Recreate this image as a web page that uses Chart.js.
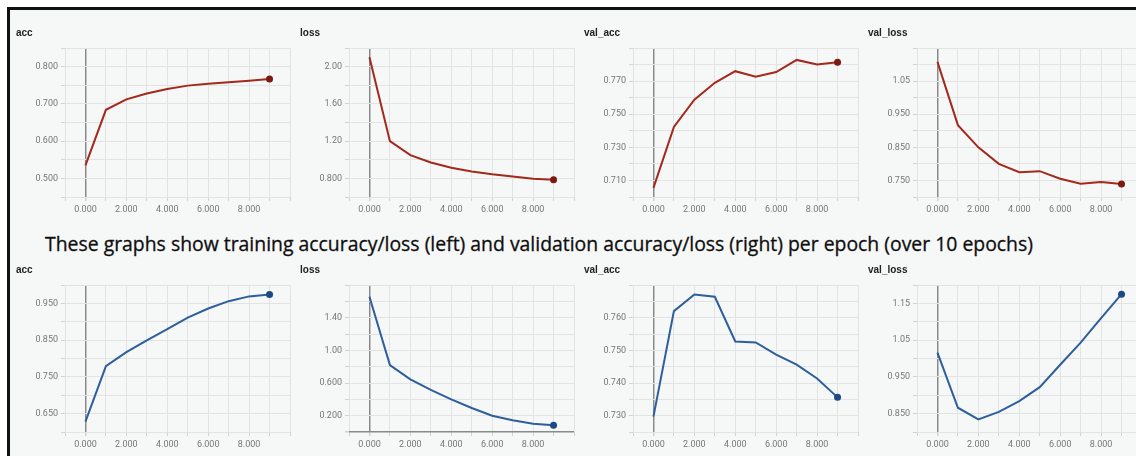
<!DOCTYPE html>
<html>
<head>
<meta charset="utf-8">
<script src="https://cdn.jsdelivr.net/npm/chart.js@4.4.1/dist/chart.umd.min.js"></script>
<style>
  html, body { margin: 0; padding: 0; background: #fff; }
  body { width: 1136px; height: 456px; overflow: hidden; position: relative; }
  #frame {
    position: absolute; left: 7px; top: 7px; width: 1140px; height: 460px;
    border-top: 3px solid #111; border-left: 3px solid #111; background: #f6f7f7;
  }
  canvas { position: absolute; }
  #caption {
    position: absolute; left: 0; width: 1078px; top: 232px; text-align: center;
    font-family: "Open Sans", Lato, sans-serif; font-size: 19.4px; line-height: 24px;
    color: #0e0e0e; white-space: nowrap; -webkit-text-stroke: 0.3px #0e0e0e;
  }
</style>
</head>
<body>
<div id="frame"></div>
<canvas id="c0" width="284" height="200" style="left:10px;top:20px"></canvas>
<canvas id="c1" width="284" height="200" style="left:294px;top:20px"></canvas>
<canvas id="c2" width="284" height="200" style="left:578px;top:20px"></canvas>
<canvas id="c3" width="284" height="200" style="left:862px;top:20px"></canvas>
<canvas id="c4" width="284" height="198" style="left:10px;top:257px"></canvas>
<canvas id="c5" width="284" height="198" style="left:294px;top:257px"></canvas>
<canvas id="c6" width="284" height="198" style="left:578px;top:257px"></canvas>
<canvas id="c7" width="284" height="198" style="left:862px;top:257px"></canvas>
<div id="caption">These graphs show training accuracy/loss (left) and validation accuracy/loss (right) per epoch (over 10 epochs)</div>

<script>
// ========== Data ==========
const epochs = [0, 1, 2, 3, 4, 5, 6, 7, 8, 9];
const xTickLabels = ['0.000', '2.000', '4.000', '6.000', '8.000'];

// first run (top row)
const accRun1 = [0.535, 0.684, 0.712, 0.728, 0.740, 0.749, 0.754, 0.758, 0.762, 0.767];
const lossRun1 = [2.10, 1.20, 1.05, 0.97, 0.915, 0.875, 0.845, 0.82, 0.797, 0.785];
const valAccRun1 = [0.7055, 0.7423, 0.7588, 0.769, 0.776, 0.7726, 0.7755, 0.7828, 0.780, 0.7814];
const valLossRun1 = [1.108, 0.917, 0.850, 0.800, 0.775, 0.778, 0.755, 0.740, 0.745, 0.739];

// second run (bottom row)
const accRun2 = [0.628, 0.779, 0.8175, 0.849, 0.880, 0.911, 0.936, 0.956, 0.969, 0.974];
const lossRun2 = [1.656, 0.82, 0.644, 0.515, 0.40, 0.294, 0.20, 0.144, 0.10, 0.083];
const valAccRun2 = [0.7297, 0.762, 0.7671, 0.7664, 0.7527, 0.7524, 0.7487, 0.7456, 0.7414, 0.7356];
const valLossRun2 = [1.016, 0.866, 0.8345, 0.8546, 0.884, 0.922, 0.983, 1.043, 1.11, 1.175];

// y tick labels
const accTicksRun1 = ['0.500', '0.600', '0.700', '0.800'];
const lossTicksRun1 = ['0.800', '1.20', '1.60', '2.00'];
const valAccTicksRun1 = ['0.710', '0.730', '0.750', '0.770'];
const valLossTicksRun1 = ['0.750', '0.850', '0.950', '1.05'];
const accTicksRun2 = ['0.650', '0.750', '0.850', '0.950'];
const lossTicksRun2 = ['0.200', '0.600', '1.00', '1.40'];
const valAccTicksRun2 = ['0.730', '0.740', '0.750', '0.760'];
const valLossTicksRun2 = ['0.850', '0.950', '1.05', '1.15'];

// ========== Style ==========
const RED = '#a2291c';
const RED_DOT = '#7c1a10';
const BLUE = '#2c5f9b';
const BLUE_DOT = '#1d4a84';
const TICK_FONT = { family: 'Roboto, "Liberation Sans", sans-serif', size: 9 };

const panels = [
  { id: 'c0', title: 'acc', values: accRun1, ticks: accTicksRun1, min: 0.45, max: 0.85, step: 0.05, color: RED, dot: RED_DOT },
  { id: 'c1', title: 'loss', values: lossRun1, ticks: lossTicksRun1, min: 0.6, max: 2.2, step: 0.2, color: RED, dot: RED_DOT },
  { id: 'c2', title: 'val_acc', values: valAccRun1, ticks: valAccTicksRun1, min: 0.70, max: 0.79, step: 0.01, color: RED, dot: RED_DOT },
  { id: 'c3', title: 'val_loss', values: valLossRun1, ticks: valLossTicksRun1, min: 0.70, max: 1.15, step: 0.05, color: RED, dot: RED_DOT },
  { id: 'c4', title: 'acc', values: accRun2, ticks: accTicksRun2, min: 0.60, max: 1.00, step: 0.05, color: BLUE, dot: BLUE_DOT },
  { id: 'c5', title: 'loss', values: lossRun2, ticks: lossTicksRun2, min: 0, max: 1.8, step: 0.2, color: BLUE, dot: BLUE_DOT },
  { id: 'c6', title: 'val_acc', values: valAccRun2, ticks: valAccTicksRun2, min: 0.725, max: 0.770, step: 0.005, color: BLUE, dot: BLUE_DOT },
  { id: 'c7', title: 'val_loss', values: valLossRun2, ticks: valLossTicksRun2, min: 0.80, max: 1.20, step: 0.05, color: BLUE, dot: BLUE_DOT }
];

// label only the ticks that are in the list
function labelFor(list, value, tol) {
  const hit = list.find(l => Math.abs(parseFloat(l) - value) < tol);
  return hit || '';
}

function gridColor(ctx) {
  return ctx.tick && Math.abs(ctx.tick.value) < 1e-9 ? '#8a8a8a' : '#e3e3e3';
}

function gridWidth(ctx) {
  return ctx.tick && Math.abs(ctx.tick.value) < 1e-9 ? 1.5 : 1;
}

function makeChart(p) {
  const last = p.values.length - 1;
  return new Chart(document.getElementById(p.id), {
    type: 'line',
    data: {
      datasets: [{
        data: epochs.map((e, i) => ({ x: e, y: p.values[i] })),
        borderColor: p.color,
        borderWidth: 2,
        tension: 0,
        fill: false,
        pointRadius: ctx => ctx.dataIndex === last ? 3.5 : 0,
        pointBackgroundColor: p.dot,
        pointBorderColor: p.dot,
        pointBorderWidth: 0
      }]
    },
    options: {
      responsive: false,
      animation: false,
      layout: { padding: { left: 6, right: 2, top: 0, bottom: 0 } },
      plugins: {
        legend: { display: false },
        tooltip: { enabled: false },
        title: {
          display: true,
          text: p.title,
          align: 'start',
          color: '#222',
          font: { family: '"Liberation Sans", Arial, sans-serif', size: 10, weight: 'bold', lineHeight: 1.2 },
          padding: { top: 7, bottom: 9 }
        }
      },
      scales: {
        x: {
          type: 'linear',
          min: -1,
          max: 10,
          afterFit: s => { s.height = 23; },
          border: { display: false },
          grid: { color: gridColor, lineWidth: gridWidth, tickColor: '#d2d2d2', tickLength: 4 },
          ticks: {
            stepSize: 1,
            maxTicksLimit: 100,
            autoSkip: false,
            maxRotation: 0,
            padding: 3,
            color: '#777',
            font: TICK_FONT,
            callback: v => labelFor(xTickLabels, v, 1e-6)
          }
        },
        y: {
          type: 'linear',
          min: p.min,
          max: p.max,
          afterFit: s => { s.width = 49; },
          border: { display: false },
          grid: { color: gridColor, lineWidth: gridWidth, tickColor: '#d2d2d2', tickLength: 4 },
          ticks: {
            stepSize: p.step,
            maxTicksLimit: 100,
            autoSkip: false,
            padding: 3,
            color: '#777',
            font: TICK_FONT,
            callback: v => labelFor(p.ticks, v, p.step / 10)
          }
        }
      }
    }
  });
}

panels.forEach(makeChart);
</script>
</body>
</html>
